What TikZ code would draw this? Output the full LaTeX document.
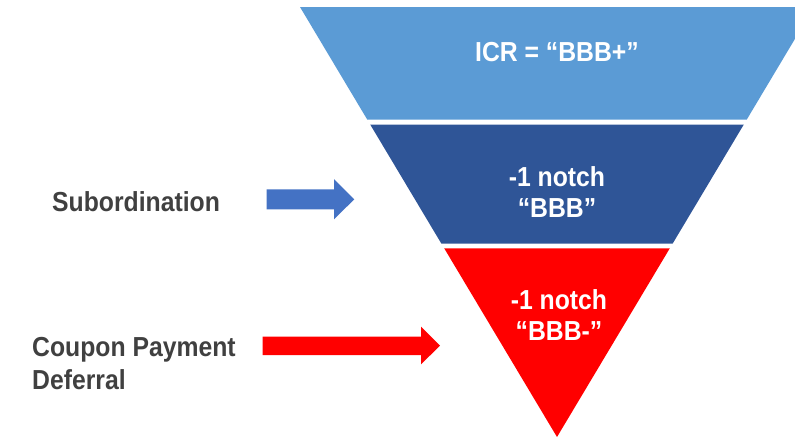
\documentclass[tikz,border=0pt]{standalone}
\usepackage{fontspec}
\setmainfont[FakeStretch=0.9]{Liberation Sans}
\definecolor{bandtop}{HTML}{5B9BD5}
\definecolor{bandmid}{HTML}{2F5597}
\definecolor{bandlow}{HTML}{FF0000}
\definecolor{arrowblue}{HTML}{4472C4}
\definecolor{labelgrey}{HTML}{404040}
\tikzset{
  bandtxt/.style={text=white, font=\bfseries\fontsize{27.5}{31}\selectfont, align=center, inner sep=0pt},
  labeltxt/.style={text=labelgrey, font=\bfseries\fontsize{27.5}{33}\selectfont, align=left, inner sep=0pt},
}
\begin{document}
\begin{tikzpicture}[x=1pt,y=-1pt]
\useasboundingbox (0,0) rectangle (795,437);
\clip (0,0) rectangle (795,437);
% funnel bands, separated by thin white gaps
\fill[bandtop] (300,7) -- (814,7) -- (746.8,119.5) -- (367.2,119.5) -- cycle;
\fill[bandmid] (370.2,124.5) -- (743.8,124.5) -- (672.7,243.5) -- (441.3,243.5) -- cycle;
\fill[bandlow] (444.2,248.3) -- (669.8,248.3) -- (557,437) -- cycle;
% band texts (base anchor = baseline of the last line)
\node[bandtxt, anchor=base] (icr) at (557,61.7) {ICR = “BBB+”};
\node[bandtxt, anchor=base] (sub) at (557,217.3) {-1 notch\\“BBB”};
\node[bandtxt, anchor=base] (def) at (559,340) {-1 notch\\“BBB-”};
% side labels
\node[labeltxt, anchor=base west] (sublbl) at (52,211.7) {Subordination};
\node[labeltxt, anchor=base west] (cpdlbl) at (32,389) {Coupon Payment\\Deferral};
% block arrows
\fill[arrowblue] (266.7,189.3) -- (334,189.3) -- (334,179) -- (354.3,199.3) -- (334,219.3) -- (334,209.3) -- (266.7,209.3) -- cycle;
\fill[bandlow] (262.7,336.7) -- (421,336.7) -- (421,326.7) -- (440,345.7) -- (421,364.3) -- (421,355) -- (262.7,355) -- cycle;
\end{tikzpicture}
\end{document}
